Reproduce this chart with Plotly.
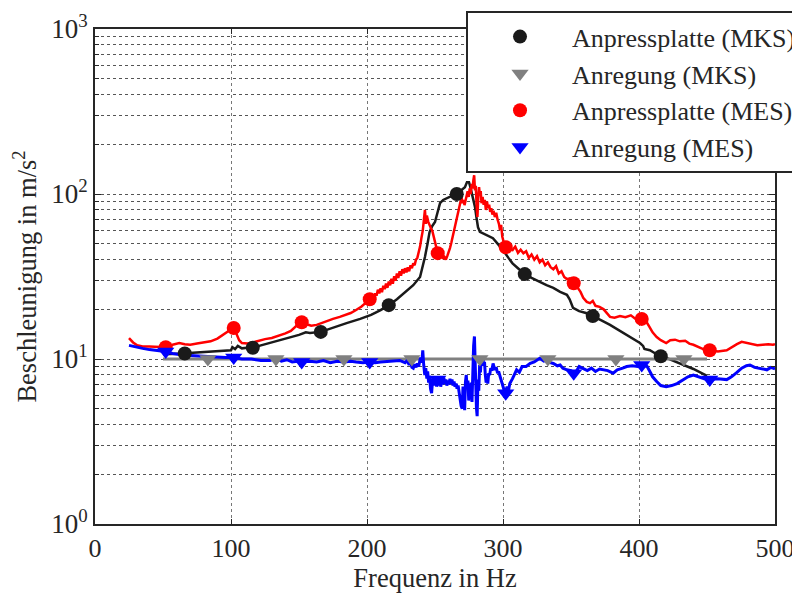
import plotly.graph_objects as go

# MKS (Simulation)
freq_mks = [50, 55, 60, 66, 72, 80, 88, 95, 100, 101, 103, 105, 108, 112, 116, 122, 130, 140, 150, 155,
            158, 166, 175, 185, 195, 203, 210, 216, 222, 228, 234, 239, 241, 242.6, 244.5, 246, 248, 250,
            252, 253.7, 256, 258.8, 262, 266, 269, 272, 273.5, 275, 276, 277, 278, 279.4, 280.5, 281.6,
            283, 285, 289, 292.6, 296, 300, 304, 307, 311, 316, 321, 327, 332, 337, 342, 347, 349, 351.5,
            356, 361, 366, 372, 378.7, 385, 391, 396, 400.7, 403, 404, 408, 412, 416.9, 422, 428, 434,
            440, 445, 450]
platte_mks = [10.7, 10.7, 10.8, 10.8, 10.9, 11.0, 11.1, 11.2, 11.3, 11.8, 11.5, 12.0, 11.6, 11.7, 11.7,
              12.1, 12.6, 13.2, 14.0, 14.5, 14.4, 14.6, 15.5, 16.5, 17.5, 18.5, 19.8, 21.2, 23.0, 25.5,
              28.0, 31.4, 36.0, 41.5, 50.0, 58.8, 64.0, 67.6, 78.0, 88.0, 92.0, 94.6, 97.0, 100.0, 105.0,
              110.0, 118.0, 118.0, 110.0, 101.4, 92.0, 83.6, 72.0, 63.0, 59.0, 58.0, 56.0, 54.0, 50.0,
              45.7, 41.0, 38.0, 35.5, 32.7, 31.0, 29.3, 28.0, 27.0, 25.5, 24.5, 23.0, 20.4, 19.5, 19.0,
              18.2, 17.2, 16.1, 15.0, 14.0, 13.3, 12.5, 12.0, 11.5, 11.3, 10.8, 10.4, 10.0, 9.6, 9.1,
              8.7, 8.3, 7.9]
freq_anr_mks = [50, 450]
anregung_mks = [10, 10]

mk_platte_mks_f = [66, 116, 166, 216, 266, 316, 366, 416]
mk_platte_mks_v = [10.8, 11.7, 14.6, 21.2, 100, 32.7, 18.2, 10.4]
mk_anr_mks_f = [83, 133, 183, 233, 283, 333, 383, 433]
mk_anr_mks_v = [10, 10, 10, 10, 10, 10, 10, 10]

# MES (Messung)
freq_platte_mes = [25, 28, 31, 35, 40, 46, 52, 57, 62, 66, 70, 75, 80, 85, 90, 94, 98, 101.5, 104, 106,
                   108, 112, 116, 120, 125, 130, 135, 140, 144, 148, 151, 155, 159, 163, 167, 171, 175,
                   180, 184, 188, 192, 196, 199,
                   202, 203, 204, 205, 206, 207, 208, 209, 210, 211, 212, 213, 214, 215, 216, 217, 218,
                   219, 220, 221, 222, 223, 224, 225, 226, 227, 228, 229, 230, 231, 232, 233, 234, 235,
                   236, 237, 238, 239, 240, 241, 242, 242.6, 243.3, 244, 245, 246, 247, 248, 249, 250,
                   251, 252, 253, 254, 255, 256, 257, 258, 259, 260, 261, 262, 263, 264, 265, 266, 267,
                   268, 268.8, 269.5, 270.3, 271, 271.7, 272.5, 273.3, 274, 274.8, 275.5, 276.2, 277,
                   277.6, 278.2, 278.8, 279.4, 280, 280.6, 281.2, 281.8, 282.4, 283, 283.6, 284.2, 285,
                   285.8, 286.6, 287.4, 288.2, 289, 289.8, 290.6, 291.4, 292.2, 293, 294, 295, 296, 297,
                   297.8, 298.6, 299.5, 300.5, 301.5,
                   303, 305, 307, 309, 311, 313, 315, 317, 319, 321, 323, 325, 327, 329,
                   331, 333, 335, 337, 339, 341, 343, 345, 347, 349, 351, 353, 355, 357, 359, 361.6, 364,
                   366, 368, 371, 374, 376, 378.7, 382, 386, 390, 394, 397, 400, 403, 406, 408, 410, 413,
                   416, 420, 423, 426.5, 430, 434, 437, 440, 444, 448, 453, 458, 464.5, 468, 472, 475.5,
                   479, 483, 487, 491, 495, 498.5, 500]
platte_mes = [13.4, 12.6, 12.1, 11.9, 11.9, 11.8, 11.8, 12.2, 12.5, 12.3, 12.2, 12.4, 12.6, 12.8, 13.3,
              14.0, 14.8, 15.4, 14.2, 13.0, 12.5, 12.4, 12.6, 12.9, 13.2, 13.4, 13.8, 14.3, 14.8, 15.8,
              16.7, 16.3, 15.9, 16.1, 16.6, 17.0, 17.5, 18.0, 18.4, 19.0, 19.8, 20.8, 21.9,
              23.0, 22.4, 24.0, 23.2, 25.0, 24.2, 26.3, 25.0, 26.8, 25.4, 27.8, 26.5, 28.7, 27.0, 29.5,
              28.0, 30.6, 28.6, 31.8, 29.8, 33.0, 31.0, 34.0, 32.0, 35.0, 33.0, 35.5, 33.5, 36.0, 34.0,
              37.0, 35.5, 38.0, 37.0, 40.0, 41.0, 44.0, 48.0, 54.0, 60.0, 72.0, 80.0, 66.0, 74.0, 68.0,
              64.0, 62.0, 60.0, 55.0, 52.0, 47.0, 43.8, 42.5, 41.5, 42.5, 40.5, 41.5, 40.0, 42.0, 44.0,
              47.0, 50.6, 55.0, 60.0, 66.0, 70.0, 76.6, 82.0, 88.0, 95.6, 88.0, 92.0, 85.6, 94.0, 98.0,
              104.0, 96.0, 108.0, 100.0, 115.0, 108.0, 121.0, 130.0, 105.0, 112.0, 85.0, 72.5, 95.0,
              110.0, 98.0, 104.0, 88.0, 96.0, 86.0, 92.0, 80.0, 90.0, 82.0, 86.0, 78.0, 82.0, 75.0,
              79.0, 72.5, 77.0, 70.0, 66.0, 60.5, 65.0, 55.0, 50.0, 47.6,
              50, 46, 45.7, 48, 44, 46, 43.8, 45, 41, 43, 40, 42, 38.5, 40, 37, 38.5, 36, 35, 36.5, 33,
              34, 31.4, 30.5, 30.8, 29.5, 28.8, 27, 25.5, 23.5, 22.2, 21.8, 22.5, 21.0, 20.7, 20.0, 19.0,
              18.0, 17.8, 18.2, 17.9, 18.4, 17.6, 17.8, 17.5, 16.5, 15.5, 14.5, 13.6, 13.0, 12.5, 13.0,
              13.1, 12.8, 12.9, 12.4, 12.2, 11.8, 11.4, 11.3, 11.1, 11.3, 11.8, 12.3, 12.7, 12.5, 12.4,
              12.1, 12.2, 12.3, 12.2, 12.3]

freq_anr_mes = [25, 30, 35, 40, 46, 51.5, 57, 63, 70, 77, 84, 90, 96, 101.7, 108, 115, 122, 128.7, 133,
                137, 141, 145, 149, 153, 158, 163, 168, 173, 178, 183, 188, 192, 197, 202, 206, 210, 215,
                220, 224,
                228, 229.5, 231, 232, 233, 234, 235, 236, 237, 238, 239, 239.5, 240.3, 241, 241.7, 242.5,
                243.2, 244, 244.6, 245.3, 246, 246.7, 247.5, 248.2, 249, 249.7, 250.5, 251.2, 252, 252.7,
                253.5, 254.2, 255, 255.7, 256.5, 257.2, 258, 258.7, 259.5, 260.2, 261, 261.7, 262.5,
                263.2, 264, 264.7, 265.5, 266.2, 267, 267.7, 268.5, 269.2, 270, 270.6, 271.2, 271.8,
                272.4, 273, 273.6, 274.2, 274.8, 275.4, 276, 276.6, 277.2, 277.8, 278.4, 279, 279.5, 280,
                280.5, 281, 281.6, 282.2, 282.8, 283.4, 284, 284.6, 285.2, 285.8, 286.4, 287, 287.6,
                288.2, 288.8, 289.5, 290.2, 291, 291.8, 292.7, 293.4, 294, 295, 296, 296.8, 297.8, 298.6,
                299.5, 300.5, 301.5, 302.2, 303, 304, 305,
                307, 308.5, 310, 312, 314, 317,
                320, 323, 325, 327, 330, 333, 335, 337, 340, 342, 344, 347, 350, 353, 356, 359, 362,
                365, 368, 371, 373.5, 377, 381, 384, 388, 391, 395, 399, 403, 406, 408, 410, 413, 416,
                420, 424, 428, 432, 436, 440, 444, 448, 453, 458, 464.5, 468, 472, 475.5, 479, 481.6,
                485, 489, 494, 497, 500]
anregung_mes = [12.1, 11.8, 11.6, 11.4, 11.2, 11.1, 10.8, 10.6, 10.5, 10.4, 10.3, 10.3, 10.2, 10.2,
                10.0, 10.0, 9.8, 9.8, 10.1, 9.7, 9.9, 9.6, 9.7, 9.6, 9.7, 9.6, 9.8, 9.5, 9.7, 9.6, 9.7,
                9.6, 9.5, 9.6, 9.5, 9.6, 9.7, 9.8, 9.8,
                9.5, 9.8, 9.2, 9.6, 8.9, 8.8, 9.3, 8.9, 9.4, 9.0, 9.9, 10.2, 9.5, 11.3, 9.2, 8.0,
                8.8, 7.6, 8.4, 7.2, 7.9, 6.6, 6.2, 7.4, 7.8, 6.9, 7.6, 6.8, 7.5, 7.0,
                7.6, 6.8, 7.4, 7.0, 7.7, 7.1, 7.5, 6.9, 7.4, 7.0, 7.6, 7.1, 7.5,
                6.9, 7.3, 6.8, 7.1, 6.6, 6.9, 6.2, 5.6, 5.2, 5.0, 6.8, 5.8, 4.9,
                7.3, 8.0, 6.6, 7.4, 5.6, 6.9, 5.9, 7.2, 5.5, 9.0, 12.0, 13.7, 9.0, 6.5,
                5.0, 4.5, 7.5, 6.4, 9.2, 8.3, 10.0, 9.2, 10.3, 9.1, 9.6, 8.0, 7.2,
                7.5, 7.1, 8.2, 8.0, 8.8, 8.5, 9.4, 8.8, 8.6, 8.9, 8.2, 8.4, 7.8, 7.4,
                7.0, 6.6, 6.2, 6.6, 6.8, 6.4, 7.1,
                7.6, 8.2, 8.6, 8.3, 9.0, 9.0,
                9.4, 9.6, 9.8, 10.1, 9.7, 9.9, 9.5, 9.4, 9.1, 9.2, 8.8, 8.6, 8.5, 8.2, 9.0, 8.7, 8.5,
                8.8, 8.4, 8.7, 8.6, 8.5, 8.2, 8.6, 8.8, 9.0, 9.1, 9.0, 9.2, 9.0, 8.4, 7.8, 7.3, 6.9,
                6.8, 6.9, 7.1, 7.4, 7.8, 8.0, 7.8, 7.6, 7.5, 7.6, 7.5, 7.8, 8.3, 8.8, 9.1, 9.2,
                8.9, 8.8, 8.6, 8.9, 8.7]

mk_platte_mes_f = [52, 102, 152, 202, 252, 302, 352, 402, 452]
mk_platte_mes_v = [11.8, 15.4, 16.7, 23.0, 43.8, 47.6, 28.8, 17.5, 11.3]
mk_anr_mes_f = [52, 102, 152, 202, 252, 302, 352, 402, 452]
mk_anr_mes_v = [11.1, 10.2, 9.6, 9.6, 7.5, 6.2, 8.2, 9.2, 7.5]

serif = 'Liberation Serif'
ink = '#262626'

fig = go.Figure()

# Linien
fig.add_trace(go.Scatter(x=freq_mks, y=platte_mks, mode='lines',
                         line=dict(color='#1a1a1a', width=2.5), showlegend=False))
fig.add_trace(go.Scatter(x=freq_anr_mks, y=anregung_mks, mode='lines',
                         line=dict(color='#808080', width=3), showlegend=False))
fig.add_trace(go.Scatter(x=freq_platte_mes, y=platte_mes, mode='lines',
                         line=dict(color='#ff0000', width=2.5), showlegend=False))
fig.add_trace(go.Scatter(x=freq_anr_mes, y=anregung_mes, mode='lines',
                         line=dict(color='#0000ff', width=3), showlegend=False))

# Marker (mit Legende)
fig.add_trace(go.Scatter(x=mk_platte_mks_f, y=mk_platte_mks_v, mode='markers', name='Anpressplatte (MKS)',
                         marker=dict(color='#1a1a1a', size=14, symbol='circle')))
fig.add_trace(go.Scatter(x=mk_anr_mks_f, y=mk_anr_mks_v, mode='markers', name='Anregung (MKS)',
                         marker=dict(color='#808080', size=15, symbol='triangle-down')))
fig.add_trace(go.Scatter(x=mk_platte_mes_f, y=mk_platte_mes_v, mode='markers', name='Anpressplatte (MES)',
                         marker=dict(color='#ff0000', size=14, symbol='circle')))
fig.add_trace(go.Scatter(x=mk_anr_mes_f, y=mk_anr_mes_v, mode='markers', name='Anregung (MES)',
                         marker=dict(color='#0000ff', size=15, symbol='triangle-down')))

# die Seite hat 8 px Rand, daher 792 x 588
fig.update_layout(
    width=792,
    height=588,
    margin=dict(l=87, r=25, t=21, b=72, autoexpand=False),
    paper_bgcolor='white',
    plot_bgcolor='white',
    font=dict(family=serif, size=26, color=ink),
    showlegend=True,
    legend=dict(
        x=0.5456, y=1.036, xanchor='left', yanchor='top',
        bgcolor='white', bordercolor=ink, borderwidth=2,
        font=dict(family=serif, size=26, color=ink),
        itemwidth=94,
    ),
    xaxis=dict(
        range=[0, 500],
        tickvals=[0, 100, 200, 300, 400, 500],
        tickfont=dict(size=26),
        title=dict(text='Frequenz in Hz', font=dict(size=26.5), standoff=4),
        showline=True, mirror='allticks', linecolor=ink, linewidth=2,
        ticks='inside', ticklen=5, tickcolor=ink,
        showgrid=True, gridcolor='#777777', griddash='dot', gridwidth=1,
        zeroline=False,
    ),
    yaxis=dict(
        type='log',
        range=[0, 3],
        tickvals=[1, 10, 100, 1000],
        ticktext=['10<sup>0</sup>', '10<sup>1</sup>', '10<sup>2</sup>', '10<sup>3</sup>'],
        tickfont=dict(size=27),
        title=dict(text='Beschleunigung in m/s<sup>2</sup>', font=dict(size=26.5), standoff=22),
        showline=True, mirror='allticks', linecolor=ink, linewidth=2,
        ticks='inside', ticklen=6, tickcolor=ink,
        showgrid=True, gridcolor='#555555', griddash='dot', gridwidth=1,
        minor=dict(
            tickvals=[2, 3, 4, 5, 6, 7, 8, 9, 20, 30, 40, 50, 60, 70, 80, 90,
                      200, 300, 400, 500, 600, 700, 800, 900],
            ticks='inside', ticklen=4, tickcolor=ink,
            showgrid=True, gridcolor='#555555', griddash='dot', gridwidth=1,
        ),
        zeroline=False,
    ),
)

fig.write_html('out.html')
